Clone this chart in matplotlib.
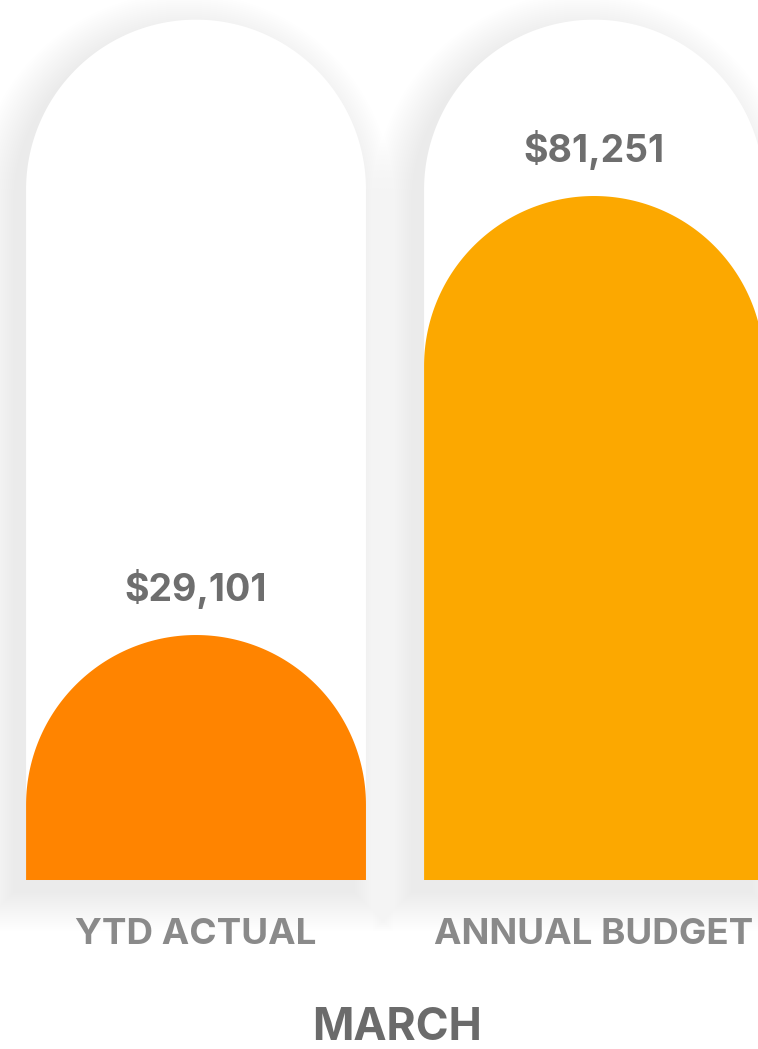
import numpy as np
import matplotlib.pyplot as plt
from matplotlib.patches import Polygon

categories = ["YTD ACTUAL", "ANNUAL BUDGET"]
values = [29101, 81251]
value_labels = ["$29,101", "$81,251"]
bar_colors = ["#FF8400", "#FCA800"]
track_value = 102200  # white background "track" behind each bar
title = "MARCH"

plt.rcParams['font.family'] = ['Inter', 'DejaVu Sans']

fig = plt.figure(figsize=(7.58, 10.49), dpi=100)
ax = fig.add_axes([0, 0, 1, 1])
ax.set_xlim(-0.4925, 1.412)
ax.set_ylim(-20075, 104535)
ax.axis("off")

bar_w = 0.854


def arch(ax, xc, width, top, grow=0.0, dx=0.0, dy=0.0, **kw):
    # rounded-top bar, built in pixels so the cap stays a half circle
    x0, y0 = ax.transData.transform((xc - width / 2, 0))
    x1, y1 = ax.transData.transform((xc + width / 2, top))
    r = (x1 - x0) / 2 + grow
    cx = (x0 + x1) / 2 + dx
    ytop = y1 + grow + dy
    ybot = y0 - grow + dy
    ycap = max(ytop - r, ybot)
    t = np.linspace(np.pi, 0, 160)
    pts = [(cx - r, ybot)]
    pts += list(zip(cx + r * np.cos(t), ycap + r * np.sin(t)))
    pts += [(cx + r, ybot)]
    verts = ax.transData.inverted().transform(np.array(pts))
    p = Polygon(verts, closed=True, lw=0, **kw)
    ax.add_patch(p)
    return p


x = np.arange(len(categories))

# soft shadow, pushed down and to the left (each layer darkens by 1/255)
for i in x:
    for g in np.arange(1, 41, 2.0):
        arch(ax, i, bar_w, track_value, grow=g, dx=-12, dy=-12, color="black",
             alpha=1 / 255, zorder=0)

for i in x:
    arch(ax, i, bar_w, track_value, color="white", zorder=1)

for i, v in enumerate(values):
    arch(ax, i, bar_w, v, color=bar_colors[i], zorder=2)
    ax.annotate(value_labels[i], (i, v), xytext=(0, 33), textcoords="offset points",
                ha="center", va="center", fontsize=27, fontweight="bold",
                color="#6e6e6e", zorder=3)
    ax.annotate(categories[i], (i, 0), xytext=(0, -39.5), textcoords="offset points",
                ha="center", va="center", fontsize=26.5, fontweight="bold",
                color="#8a8a8a", zorder=3)

fig.text(0.524, 0.02, title, ha="center", va="center", fontsize=32,
         fontweight="bold", color="#6b6b6b")

fig.savefig("out.png", dpi=100, facecolor="white")
